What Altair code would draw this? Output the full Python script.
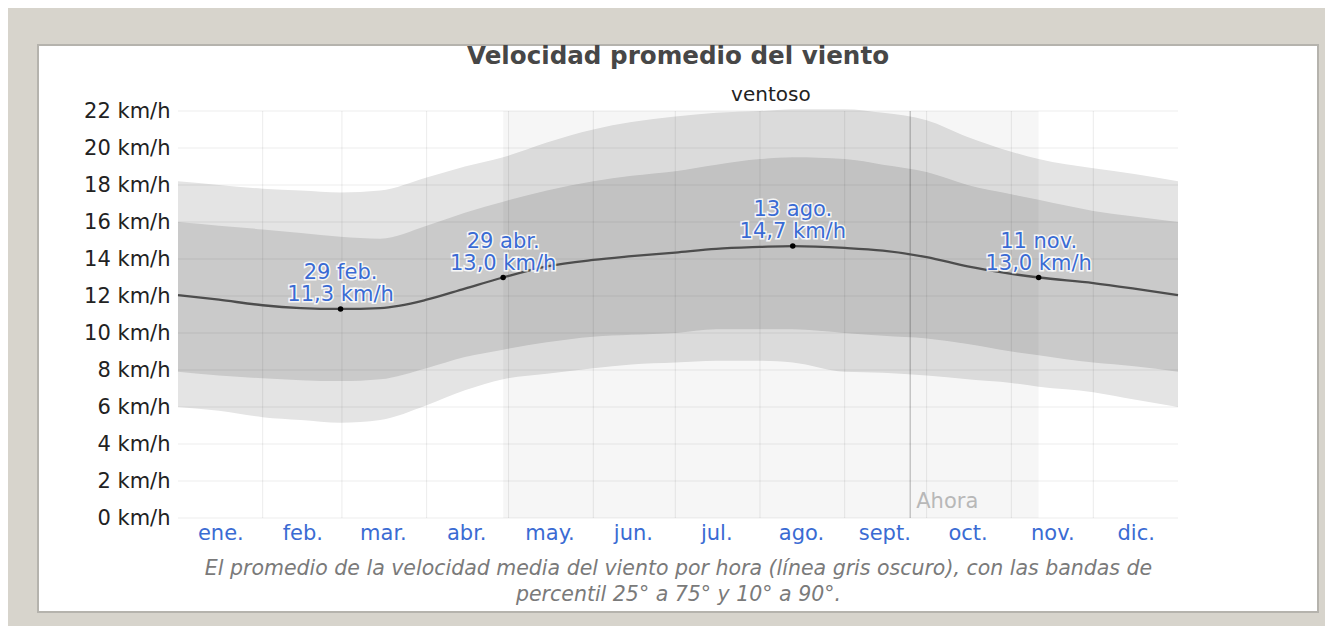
import altair as alt
import pandas as pd

TITLE = "Velocidad promedio del viento"
CAPTION = [
    "El promedio de la velocidad media del viento por hora (línea gris oscuro), con las bandas de",
    "percentil 25° a 75° y 10° a 90°.",
]
MONTHS = ["ene.", "feb.", "mar.", "abr.", "may.", "jun.", "jul.", "ago.", "sept.", "oct.", "nov.", "dic."]
MONTH_MID = [15.5, 45.5, 75, 105.5, 136, 166.5, 197, 228, 258.5, 289, 320, 350.5]
MONTH_START = [31, 60, 91, 121, 152, 182, 213, 244, 274, 305, 335]
Y_TICKS = [0, 2, 4, 6, 8, 10, 12, 14, 16, 18, 20, 22]

# day of year and wind speed percentiles (km/h)
DAYS = [0, 15, 31, 45, 59.5, 74, 91, 105, 119, 135, 152, 166, 182, 197, 213, 225, 244, 258, 274, 289, 305, 315, 335, 350, 366]
P10 = [6.0, 5.8, 5.45, 5.3, 5.15, 5.3, 6.1, 6.9, 7.5, 7.8, 8.1, 8.3, 8.4, 8.5, 8.5, 8.4, 7.9, 7.85, 7.7, 7.5, 7.3, 7.1, 6.8, 6.4, 6.0]
P25 = [7.9, 7.7, 7.55, 7.45, 7.4, 7.5, 8.1, 8.7, 9.1, 9.5, 9.8, 9.9, 10.0, 10.2, 10.2, 10.2, 10.0, 9.85, 9.7, 9.4, 9.0, 8.8, 8.4, 8.2, 7.9]
MEAN = [12.05, 11.8, 11.5, 11.35, 11.3, 11.35, 11.8, 12.4, 13.0, 13.6, 13.95, 14.15, 14.35, 14.55, 14.65, 14.7, 14.6, 14.45, 14.1, 13.6, 13.2, 13.0, 12.7, 12.4, 12.05]
P75 = [16.0, 15.8, 15.6, 15.4, 15.2, 15.1, 15.8, 16.5, 17.1, 17.7, 18.2, 18.5, 18.75, 19.1, 19.4, 19.5, 19.4, 19.1, 18.7, 18.0, 17.5, 17.2, 16.6, 16.3, 16.0]
P90 = [18.2, 18.0, 17.8, 17.7, 17.6, 17.7, 18.4, 19.0, 19.5, 20.3, 21.0, 21.4, 21.7, 21.9, 22.0, 22.1, 22.1, 21.9, 21.5, 20.6, 19.8, 19.4, 18.9, 18.6, 18.2]

ANN_DAY = [59.5, 119, 225, 315]
ANN_DATE = ["29 feb.", "29 abr.", "13 ago.", "11 nov."]
ANN_VALUE = [11.3, 13.0, 14.7, 13.0]

SEASON_LABEL = "ventoso"
SEASON_START = 119
SEASON_END = 315
NOW_DAY = 268
NOW_LABEL = "Ahora"

W, H = 1000, 407
FONT = "DejaVu Sans"
BLUE = "#3a6bd3"

df = pd.DataFrame({"day": DAYS, "p10": P10, "p25": P25, "mean": MEAN, "p75": P75, "p90": P90})
ann = pd.DataFrame({
    "day": ANN_DAY,
    "value": ANN_VALUE,
    "label": [f"{d}\n{str(v).replace('.', ',')} km/h" for d, v in zip(ANN_DATE, ANN_VALUE)],
})
months_start = pd.DataFrame({"day": MONTH_START})
yt = pd.DataFrame({"v": Y_TICKS})
season = pd.DataFrame({"start": [SEASON_START], "end": [SEASON_END],
                       "mid": [(SEASON_START + SEASON_END) / 2], "label": [SEASON_LABEL]})
now = pd.DataFrame({"day": [NOW_DAY], "label": [NOW_LABEL]})
title_df = pd.DataFrame({"t": [TITLE]})

xscale = alt.Scale(domain=[0, 366], nice=False, zero=False)
yscale = alt.Scale(domain=[0, 22], nice=False)

month_arr = "[" + ",".join(f"'{m}'" for m in MONTHS) + "]"
x_axis = alt.Axis(
    values=MONTH_MID, labelExpr=f"{month_arr}[floor(datum.value / 30.5)]",
    grid=False, domain=False, ticks=False, labelFont=FONT, labelFontSize=21,
    labelColor=BLUE, labelPadding=4, title=CAPTION, titleFont=FONT,
    titleFontStyle="italic", titleFontWeight="normal", titleFontSize=20.5,
    titleColor="#7a7a7a", titleLineHeight=26, titlePadding=15, zindex=1,
)
y_axis = alt.Axis(
    values=Y_TICKS, labelExpr="datum.value + ' km/h'", grid=False, domain=False,
    ticks=False, labelFont=FONT, labelFontSize=21, labelColor="#222222",
    labelPadding=8, title=None, zindex=1,
)


def X(field):
    return alt.X(field, scale=xscale, axis=x_axis)


def Y(field):
    return alt.Y(field, scale=yscale, axis=y_axis)


panel = alt.Chart(pd.DataFrame({"a": [0]})).mark_rect(
    fill="white", stroke="#b5b3ad", strokeWidth=2
).encode(x=alt.value(-140), x2=alt.value(1140), y=alt.value(-66), y2=alt.value(501))

title_text = alt.Chart(title_df).mark_text(
    font=FONT, fontSize=24.6, fontWeight="bold", color="#474747",
    baseline="middle", align="center",
).encode(x=alt.value(W / 2), y=alt.value(-54), text="t:N")

base = alt.Chart(df)
outer = base.mark_area(color="#e4e4e4", interpolate="monotone").encode(
    x=X("day:Q"), y=Y("p10:Q"), y2="p90:Q",
)
inner = base.mark_area(color="#cacaca", interpolate="monotone").encode(
    x=X("day:Q"), y=Y("p25:Q"), y2="p75:Q",
)
season_rect = alt.Chart(season).mark_rect(color="black", opacity=0.035).encode(
    x=X("start:Q"), x2="end:Q", y=alt.value(0), y2=alt.value(H),
)
vgrid = alt.Chart(months_start).mark_rule(color="black", opacity=0.08, strokeWidth=1).encode(
    x=X("day:Q"), y=alt.value(0), y2=alt.value(H),
)
hgrid = alt.Chart(yt).mark_rule(color="black", opacity=0.07, strokeWidth=1).encode(
    y=Y("v:Q"), x=alt.value(0), x2=alt.value(W),
)
now_rule = alt.Chart(now).mark_rule(color="black", opacity=0.2, strokeWidth=1.5).encode(
    x=X("day:Q"), y=alt.value(0), y2=alt.value(H),
)
line = base.mark_line(color="#4d4d4d", strokeWidth=2.3, interpolate="monotone").encode(
    x=X("day:Q"), y=Y("mean:Q"),
)
annb = alt.Chart(ann)
dots = annb.mark_circle(color="black", size=30, opacity=1).encode(
    x=X("day:Q"), y=Y("value:Q"),
)
halo = annb.mark_text(
    font=FONT, fontSize=21, lineBreak="\n", lineHeight=22, baseline="bottom", dy=-26,
    stroke="white", strokeWidth=3, strokeOpacity=0.85, fill="white", align="center",
).encode(x=X("day:Q"), y=Y("value:Q"), text="label:N")
ann_text = annb.mark_text(
    font=FONT, fontSize=21, lineBreak="\n", lineHeight=22, baseline="bottom", dy=-26,
    color=BLUE, align="center",
).encode(x=X("day:Q"), y=Y("value:Q"), text="label:N")
season_text = alt.Chart(season).mark_text(
    font=FONT, fontSize=20, color="#222222", baseline="middle", align="center",
).encode(x=X("mid:Q"), y=alt.value(-16), text="label:N")
now_text = alt.Chart(now).mark_text(
    font=FONT, fontSize=21, color="#b8b8b8", baseline="middle", align="left", dx=6,
).encode(x=X("day:Q"), y=alt.value(391), text="label:N")

chart = alt.layer(
    panel, title_text, outer, inner, season_rect, vgrid, hgrid, now_rule, line, dots,
    halo, ann_text, season_text, now_text,
).properties(
    width=W, height=H,
    background="#d7d4cc",
    padding={"left": 170, "top": 103, "right": 147, "bottom": 108},
    autosize=alt.AutoSizeParams(type="none"),
).configure_view(strokeWidth=0)

chart.save("out.html", embed_options={"renderer": "svg", "actions": False})
